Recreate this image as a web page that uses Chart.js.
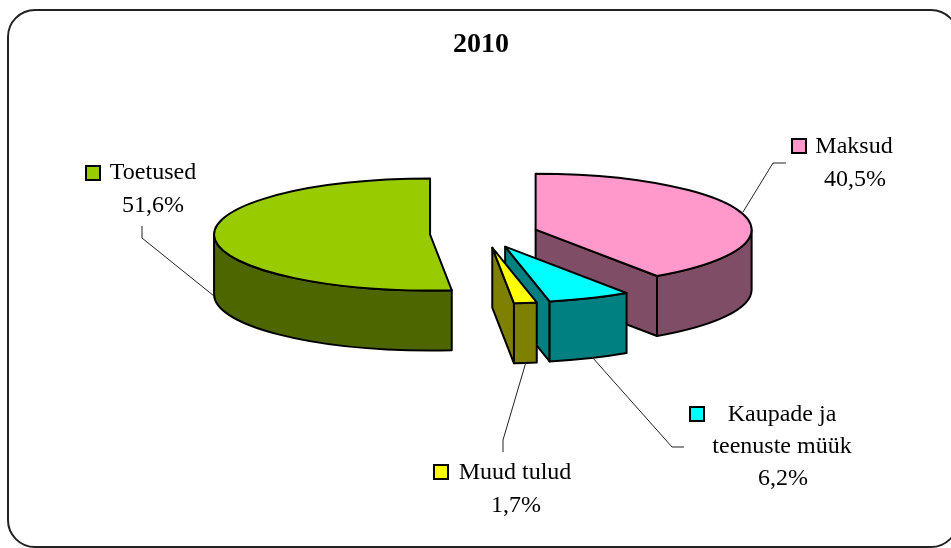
<!DOCTYPE html>
<html>
<head>
<meta charset="utf-8">
<title>2010</title>
<script src="https://cdn.jsdelivr.net/npm/chart.js@4/dist/chart.umd.min.js"></script>
<style>
  html, body { margin: 0; padding: 0; background: #fff; overflow: hidden; }
  canvas { display: block; }
</style>
</head>
<body>
<canvas id="pie" width="951" height="548"></canvas>
<script>
// Values
const chartTitle = "2010";
const categories = ["Maksud", ["Kaupade ja", "teenuste müük"], "Muud tulud", "Toetused"];
const shares = [40.5, 6.2, 1.7, 51.6];

const topColors = ["#FF99CC", "#00FFFF", "#FFFF00", "#99CC00"];
const sideColors = ["#804D66", "#008080", "#808000", "#4D6600"];

// Tilt of the pie: the library lays it out flat, the plugin squashes it
const squash = 56 / 216;
const depth = 60;
const explode = 54;
const pieRadius = 216;
const pieNudgeX = 3; // title is centred at 481, pie at 484

// Where each data label and its leader line sit, same order as categories
const labelLayout = [
  { box: [792, 139], lines: [[854, 153], [855, 186]], leader: [[786, 163], [773, 163], [743, 212]] },
  { box: [690, 407], lines: [[782, 421], [782, 453], [783, 485]], leader: [[592, 357], [672, 447], [684, 447]] },
  { box: [434, 465], lines: [[515, 479], [516, 512]], leader: [[526, 362], [503, 440], [503, 452]] },
  { box: [86, 166], lines: [[153, 179], [153, 212]], leader: [[142, 226], [142, 238], [214, 296]] }
];

const labelFont = '24px "Liberation Serif"';

function fmtShare(v) {
  return v.toFixed(1).replace(".", ",") + "%";
}

// Screen centre of a slice's top face after explode and squash
function sliceCentre(arc) {
  const mid = (arc.startAngle + arc.endAngle) / 2;
  return {
    x: arc.x + pieNudgeX + Math.cos(mid) * explode,
    y: arc.y + Math.sin(mid) * explode * squash
  };
}

function paintPath(ctx, fill) {
  ctx.fillStyle = fill;
  ctx.fill();
  ctx.stroke();
}

function drawWalls(ctx, arc, color) {
  const c = sliceCentre(arc);
  const r = arc.outerRadius;
  const ry = r * squash;

  // the cut face that looks towards the viewer
  const cut = Math.cos(arc.endAngle) > 0.001 ? arc.endAngle : (Math.cos(arc.startAngle) < -0.001 ? arc.startAngle : null);
  if (cut !== null) {
    const ex = c.x + r * Math.cos(cut);
    const ey = c.y + ry * Math.sin(cut);
    ctx.beginPath();
    ctx.moveTo(c.x, c.y);
    ctx.lineTo(ex, ey);
    ctx.lineTo(ex, ey + depth);
    ctx.lineTo(c.x, c.y + depth);
    ctx.closePath();
    paintPath(ctx, color);
  }

  // outer rim, only the front half of the ellipse shows
  const a0 = Math.max(arc.startAngle, 0);
  const a1 = Math.min(arc.endAngle, Math.PI);
  if (a1 > a0) {
    ctx.beginPath();
    ctx.ellipse(c.x, c.y, r, ry, 0, a0, a1, false);
    ctx.ellipse(c.x, c.y + depth, r, ry, 0, a1, a0, true);
    ctx.closePath();
    paintPath(ctx, color);
  }
}

// The library's own arc, moved and squashed onto its spot
function drawTop(ctx, arc) {
  const c = sliceCentre(arc);
  ctx.save();
  ctx.translate(c.x, c.y);
  ctx.scale(1, squash);
  ctx.translate(-arc.x, -arc.y);
  arc.draw(ctx);
  ctx.restore();

  ctx.beginPath();
  ctx.moveTo(c.x, c.y);
  ctx.ellipse(c.x, c.y, arc.outerRadius, arc.outerRadius * squash, 0, arc.startAngle, arc.endAngle, false);
  ctx.closePath();
  ctx.stroke();
}

const tiltedPie = {
  id: "tiltedPie",
  beforeDraw(chart) {
    const ctx = chart.ctx;
    ctx.save();
    ctx.fillStyle = "#fff";
    ctx.fillRect(0, 0, chart.width, chart.height);
    ctx.beginPath();
    ctx.roundRect(8, 10, 950, 537, 27);
    ctx.strokeStyle = "#222";
    ctx.lineWidth = 2;
    ctx.stroke();
    ctx.restore();
  },
  // skip the flat pie, afterDatasetsDraw paints the tilted one
  beforeDatasetDraw() {
    return false;
  },
  afterDatasetsDraw(chart) {
    const ctx = chart.ctx;
    const arcs = chart.getDatasetMeta(0).data;
    ctx.save();
    ctx.strokeStyle = "#000";
    ctx.lineWidth = 2;
    ctx.lineJoin = "round";
    arcs.forEach((arc, i) => drawWalls(ctx, arc, sideColors[i]));
    arcs.forEach(arc => drawTop(ctx, arc));
    ctx.restore();
    drawLabels(ctx);
  }
};

function drawLabels(ctx) {
  ctx.save();
  categories.forEach((cat, i) => {
    const spot = labelLayout[i];

    ctx.beginPath();
    spot.leader.forEach((p, j) => j ? ctx.lineTo(p[0], p[1]) : ctx.moveTo(p[0], p[1]));
    ctx.strokeStyle = "#222";
    ctx.lineWidth = 1;
    ctx.stroke();

    ctx.fillStyle = topColors[i];
    ctx.fillRect(spot.box[0], spot.box[1], 14, 14);
    ctx.strokeStyle = "#000";
    ctx.lineWidth = 2;
    ctx.strokeRect(spot.box[0], spot.box[1], 14, 14);

    const text = [].concat(cat, fmtShare(shares[i]));
    ctx.fillStyle = "#000";
    ctx.font = labelFont;
    ctx.textAlign = "center";
    ctx.textBaseline = "alphabetic";
    text.forEach((t, j) => ctx.fillText(t, spot.lines[j][0], spot.lines[j][1]));
  });
  ctx.restore();
}

new Chart(document.getElementById("pie"), {
  type: "pie",
  data: {
    labels: categories,
    datasets: [{
      data: shares,
      backgroundColor: topColors,
      borderWidth: 0
    }]
  },
  options: {
    responsive: false,
    animation: false,
    radius: pieRadius,
    layout: { padding: { left: 17, top: 0, right: 6, bottom: 142 } },
    plugins: {
      legend: { display: false },
      tooltip: { enabled: false },
      title: {
        display: true,
        text: chartTitle,
        color: "#000",
        font: { family: '"Liberation Serif"', size: 28, weight: "bold" },
        padding: { top: 28, bottom: 0 }
      }
    }
  },
  plugins: [tiltedPie]
});
</script>
</body>
</html>
